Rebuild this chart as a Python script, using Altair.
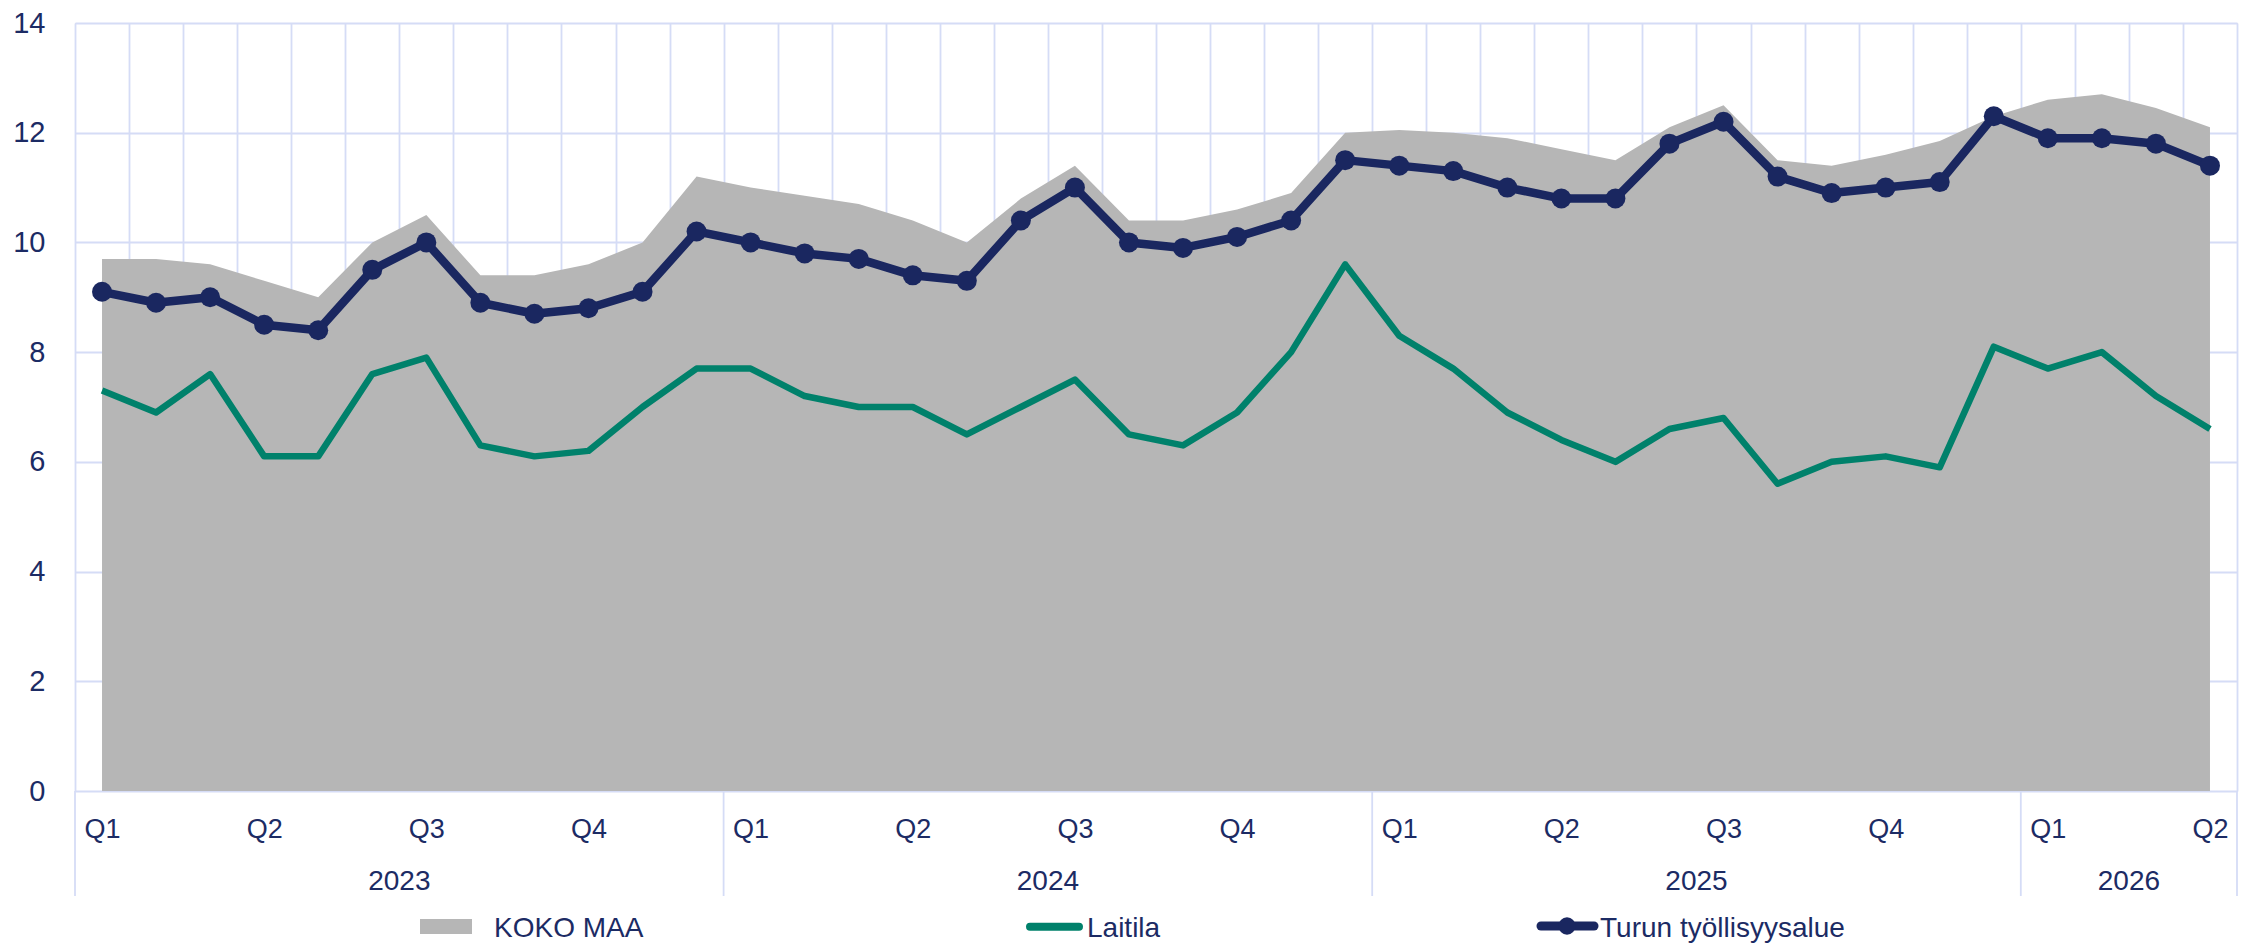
import altair as alt
import pandas as pd

# ---- data -------------------------------------------------------------
years = [2023, 2024, 2025, 2026]
months_per_year = [12, 12, 12, 4]
months = [f"{y}-{m:02d}" for y, n in zip(years, months_per_year) for m in range(1, n + 1)]
quarter_of_month = {"01": "Q1", "04": "Q2", "07": "Q3", "10": "Q4"}

series_names = ["KOKO MAA", "Laitila", "Turun työllisyysalue"]

koko_maa = [9.7, 9.7, 9.6, 9.3, 9.0, 10.0, 10.5, 9.4, 9.4, 9.6, 10.0, 11.2,
            11.0, 10.85, 10.7, 10.4, 10.0, 10.8, 11.4, 10.4, 10.4, 10.6, 10.9, 12.0,
            12.05, 12.0, 11.9, 11.7, 11.5, 12.1, 12.5, 11.5, 11.4, 11.6, 11.85, 12.3,
            12.6, 12.7, 12.45, 12.1]
laitila = [7.3, 6.9, 7.6, 6.1, 6.1, 7.6, 7.9, 6.3, 6.1, 6.2, 7.0, 7.7,
           7.7, 7.2, 7.0, 7.0, 6.5, 7.0, 7.5, 6.5, 6.3, 6.9, 8.0, 9.6,
           8.3, 7.7, 6.9, 6.4, 6.0, 6.6, 6.8, 5.6, 6.0, 6.1, 5.9, 8.1,
           7.7, 8.0, 7.2, 6.6]
turku = [9.1, 8.9, 9.0, 8.5, 8.4, 9.5, 10.0, 8.9, 8.7, 8.8, 9.1, 10.2,
         10.0, 9.8, 9.7, 9.4, 9.3, 10.4, 11.0, 10.0, 9.9, 10.1, 10.4, 11.5,
         11.4, 11.3, 11.0, 10.8, 10.8, 11.8, 12.2, 11.2, 10.9, 11.0, 11.1, 12.3,
         11.9, 11.9, 11.8, 11.4]

y_ticks = [0, 2, 4, 6, 8, 10, 12, 14]

# ---- styling ----------------------------------------------------------
NAVY = "#1a2760"
GREEN = "#00816b"
GRAY = "#b6b6b6"
GRID = "#d5dcf6"
TEXT = "#1c2b64"
FONT = "Liberation Sans"

W, H = 2162, 768

df = pd.DataFrame({"month": months, "koko": koko_maa, "laitila": laitila, "turku": turku})

label_expr = " : ".join(
    [f"substring(datum.value, 5) == '{k}' ? '{v}'" for k, v in quarter_of_month.items()]
) + " : ''"

x_scale = alt.Scale(type="band", domain=months, paddingInner=0, paddingOuter=0)
y_scale = alt.Scale(domain=[0, 14], nice=False)

x_axis = alt.Axis(
    title=None, tickBand="extent", grid=True, gridColor=GRID, gridWidth=1.8,
    ticks=False, domain=False, labelExpr=label_expr, labelOverlap=False,
    labelAngle=0, labelFontSize=27, labelColor=TEXT, labelFont=FONT, labelPadding=25,
)
y_axis = alt.Axis(
    title=None, values=y_ticks, format="d", grid=True, gridColor=GRID, gridWidth=1.8,
    ticks=False, domain=False, labelFontSize=29, labelColor=TEXT, labelFont=FONT,
    labelPadding=30,
)

base = alt.Chart(df)

area = base.mark_area(color=GRAY, opacity=1).encode(
    x=alt.X("month:O", scale=x_scale, axis=x_axis, sort=months),
    y=alt.Y("koko:Q", scale=y_scale, axis=y_axis),
)

line_laitila = base.mark_line(color=GREEN, strokeWidth=6.5, strokeJoin="round").encode(
    x=alt.X("month:O", sort=months), y="laitila:Q"
)

line_turku = base.mark_line(
    color=NAVY, strokeWidth=8.5, strokeJoin="round",
    point=alt.OverlayMarkDef(filled=True, size=400, color=NAVY, opacity=1),
).encode(x=alt.X("month:O", sort=months), y="turku:Q")

# year separators and labels (below axis)
year_starts = pd.DataFrame({"month": [f"{y}-01" for y in years]})
year_end = pd.DataFrame({"month": [months[-1]]})
sep_start = alt.Chart(year_starts).mark_rule(color=GRID, strokeWidth=1.8).encode(
    x=alt.X("month:O", bandPosition=0), y=alt.value(H), y2=alt.value(H + 105)
)
sep_end = alt.Chart(year_end).mark_rule(color=GRID, strokeWidth=1.8).encode(
    x=alt.X("month:O", bandPosition=1), y=alt.value(H), y2=alt.value(H + 105)
)
year_mid = pd.DataFrame({
    "year": [str(y) for y in years],
    "month": [f"{y}-{n // 2 + 1:02d}" for y, n in zip(years, months_per_year)],
})
year_text = alt.Chart(year_mid).mark_text(
    fontSize=28, font=FONT, color=TEXT, baseline="alphabetic", align="center"
).encode(x=alt.X("month:O", bandPosition=0), y=alt.value(H + 99), text="year:N")

# manual legend
leg = [pd.DataFrame({"name": [n]}) for n in series_names]
DY = -7
LY = 920.7 + DY
leg_koko_sw = alt.Chart(leg[0]).mark_rect(color=GRAY).encode(
    x=alt.value(345), x2=alt.value(397), y=alt.value(903 + DY), y2=alt.value(918 + DY)
)
leg_laitila_sw = alt.Chart(leg[1]).mark_rule(color=GREEN, strokeWidth=8, strokeCap="round").encode(
    x=alt.value(955), x2=alt.value(1004), y=alt.value(910.7 + DY)
)
leg_turku_sw = alt.Chart(leg[2]).mark_rule(color=NAVY, strokeWidth=9, strokeCap="round").encode(
    x=alt.value(1466), x2=alt.value(1519), y=alt.value(910 + DY)
)
leg_turku_pt = alt.Chart(leg[2]).mark_point(filled=True, size=300, color=NAVY, opacity=1).encode(
    x=alt.value(1492), y=alt.value(910 + DY)
)
leg_texts = []
for d, xpos in zip(leg, [419, 1012, 1525]):
    leg_texts.append(
        alt.Chart(d).mark_text(fontSize=28, font=FONT, color=TEXT, align="left", baseline="alphabetic")
        .encode(x=alt.value(xpos), y=alt.value(LY), text="name:N")
    )

chart = alt.layer(
    area, line_laitila, line_turku, sep_start, sep_end, year_text,
    leg_koko_sw, leg_laitila_sw, leg_turku_sw, leg_turku_pt, *leg_texts,
).properties(
    width=W, height=H,
    padding={"left": 67, "top": 15, "right": 4, "bottom": 155},
    autosize=alt.AutoSizeParams(type="none"),
).configure_view(stroke=None).configure(background="white")

chart.save("out.html", embed_options={"renderer": "svg", "actions": False})
